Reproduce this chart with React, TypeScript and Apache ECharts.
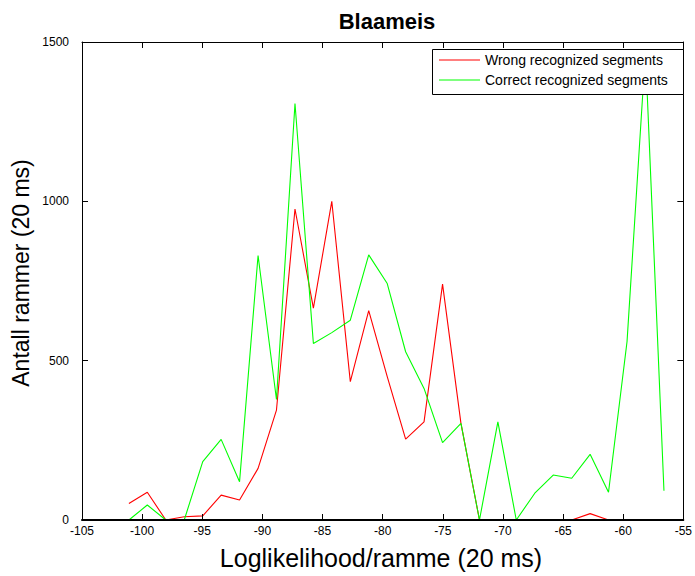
import React, { useEffect, useRef } from "react";
import * as echarts from "echarts";

const xValues = [
  -101.1, -99.57, -98.03, -96.5, -94.96, -93.43, -91.9, -90.36, -88.83, -87.29,
  -85.76, -84.23, -82.69, -81.16, -79.62, -78.09, -76.56, -75.02, -73.49, -71.95,
  -70.42, -68.89, -67.35, -65.82, -64.28, -62.75, -61.22, -59.68, -58.15, -56.61,
];
const wrongSegments = [
  52, 87, 0, 10, 13, 78, 63, 162, 345, 976, 665, 1000, 434, 657, 450, 254, 308, 740,
  303, 0, 0, 0, 0, 0, 0, 20, 0, 0, 0, 0,
];
const correctSegments = [
  0, 47, 0, 0, 183, 253, 120, 830, 378, 1307, 554, 588, 627, 832, 742, 528, 413, 243,
  303, 0, 308, 0, 84, 141, 131, 206, 87, 560, 1470, 92,
];
const seriesNames = ["Wrong recognized segments", "Correct recognized segments"];
const seriesColors = ["#ff0000", "#00ff00"];
const titleText = "Blaameis";
const xName = "Loglikelihood/ramme (20 ms)";
const yName = "Antall rammer (20 ms)";

const tickFont = '"Liberation Sans Narrow", "Arial Narrow", "Liberation Sans", Arial, sans-serif';
const mainFont = '"Liberation Sans", Arial, Helvetica, sans-serif';

export default function App() {
  const ref = useRef<HTMLDivElement>(null);
  useEffect(() => {
    if (!ref.current) return;
    const chart = echarts.init(ref.current, null, { renderer: "svg" });
    const pair = (ys: number[]) => xValues.map((x, i) => [x, ys[i]]);
    const axisCommon = {
      z: 10,
      axisLine: { show: true, onZero: false, lineStyle: { color: "#000", width: 1 } },
      axisTick: { show: true, inside: true, length: 6, lineStyle: { color: "#000" } },
      splitLine: { show: false },
    };
    const legendLeft = 432.5;
    const legendTop = 49.5;
    const legendRows = [60, 80];
    chart.setOption({
      animation: false,
      backgroundColor: "#fff",
      grid: { left: 82, right: 7, top: 42, bottom: 56, containLabel: false },
      title: {
        text: titleText,
        left: 382,
        top: 5,
        textAlign: "center",
        textStyle: { fontFamily: mainFont, fontSize: 22, fontWeight: "bold", color: "#000" },
      },
      xAxis: [
        {
          type: "value",
          min: -105,
          max: -55,
          interval: 5,
          position: "bottom",
          ...axisCommon,
          axisLine: { show: true, onZero: false, lineStyle: { color: "#000", width: 2 } },
          axisLabel: { show: true, fontFamily: tickFont, fontSize: 12, color: "#000", margin: 5 },
        },
        {
          type: "value",
          min: -105,
          max: -55,
          interval: 5,
          position: "top",
          ...axisCommon,
          axisLabel: { show: false },
        },
      ],
      yAxis: [
        {
          type: "value",
          min: 0,
          max: 1500,
          interval: 500,
          position: "left",
          ...axisCommon,
          axisLabel: {
            show: true,
            fontFamily: tickFont,
            fontSize: 12,
            color: "#000",
            margin: 13,
            formatter: (v: number) => String(v),
          },
        },
        {
          type: "value",
          min: 0,
          max: 1500,
          interval: 500,
          position: "right",
          ...axisCommon,
          axisLabel: { show: false },
        },
      ],
      series: [
        {
          name: seriesNames[0],
          type: "line",
          data: pair(wrongSegments),
          symbol: "none",
          lineStyle: { color: seriesColors[0], width: 1.1 },
          itemStyle: { color: seriesColors[0] },
          z: 2,
        },
        {
          name: seriesNames[1],
          type: "line",
          data: pair(correctSegments),
          symbol: "none",
          lineStyle: { color: seriesColors[1], width: 1.1 },
          itemStyle: { color: seriesColors[1] },
          z: 3,
        },
      ],
      graphic: [
        {
          type: "text",
          x: 21,
          y: 273,
          rotation: Math.PI / 2,
          style: {
            text: yName,
            font: `23px ${mainFont}`,
            fill: "#000",
            textAlign: "center",
            textVerticalAlign: "middle",
          },
        },
        {
          type: "text",
          x: 381,
          y: 558,
          style: {
            text: xName,
            font: `25px ${mainFont}`,
            fill: "#000",
            textAlign: "center",
            textVerticalAlign: "middle",
          },
        },
        {
          type: "group",
          z: 100,
          children: [
            {
              type: "rect",
              z: 100,
              shape: { x: legendLeft, y: legendTop, width: 251, height: 45 },
              style: { fill: "#fff", stroke: "#000", lineWidth: 1 },
            },
            ...seriesNames.flatMap((name, i) => [
              {
                type: "line",
                z: 101,
                shape: { x1: 439, y1: legendRows[i], x2: 480, y2: legendRows[i] },
                style: { stroke: seriesColors[i], lineWidth: 1.1 },
              },
              {
                type: "text",
                z: 101,
                x: 485,
                y: legendRows[i],
                style: {
                  text: name,
                  font: `14px ${mainFont}`,
                  fill: "#000",
                  textAlign: "left",
                  textVerticalAlign: "middle",
                },
              },
            ]),
          ],
        },
      ],
    });
    return () => chart.dispose();
  }, []);
  return (
    <div
      ref={ref}
      style={{ position: "fixed", left: 0, top: 0, width: 695, height: 576, background: "#fff" }}
    />
  );
}
